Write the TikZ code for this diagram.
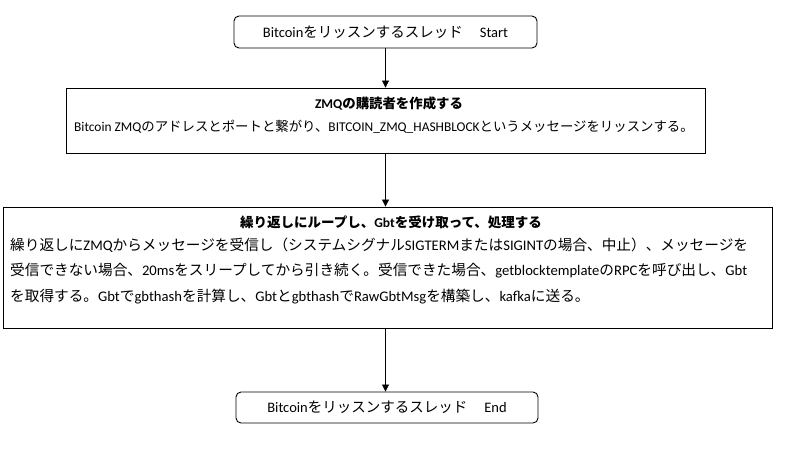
\documentclass[tikz,border=0pt]{standalone}
\usepackage{fontspec}
\setmainfont{Carlito}
\newfontfamily\jpf{Noto Sans CJK JP}
\newcommand{\J}[1]{{\jpf #1}}
\usetikzlibrary{arrows.meta}
\begin{document}
\begin{tikzpicture}[x=1pt,y=-1pt,
  box/.style={draw=black, line width=0.9pt, inner sep=0pt},
  rbox/.style={box, rounded corners=5pt},
  conn/.style={draw=black, line width=0.8pt, -{Triangle[length=7pt,width=7pt]}},
  txt/.style={inner sep=0pt, text=black},
  ]
\fill[white] (0,0) rectangle (805,450);
\useasboundingbox (0,0) rectangle (805,450);

\node[rbox, minimum width=303pt, minimum height=32pt] (start) at (385.5,32) {};
\node[box, minimum width=639pt, minimum height=65pt] (zmq) at (385.5,120.5) {};
\node[box, minimum width=769pt, minimum height=121pt] (loop) at (387.5,267.5) {};
\node[rbox, minimum width=302pt, minimum height=31pt] (end) at (387,407.5) {};

\node[txt, font=\fontsize{14.5}{17}\selectfont] (t1) at (385.5,32) {Bitcoin\J{をリッスンするスレッド}\hspace{17pt}Start};
\node[txt, font=\fontsize{14.5}{17}\selectfont] (t4) at (387,407.5) {Bitcoin\J{をリッスンするスレッド}\hspace{17pt}End};

\node[txt, font=\fontsize{13.4}{16}\selectfont\bfseries] (zt) at (389,103) {ZMQ\J{の購読者を作成する}};
\node[txt, anchor=west, font=\fontsize{13.4}{16}\selectfont] (zb) at (74,127) {Bitcoin ZMQ\J{のアドレスとポートと繋がり、}BITCOIN\_ZMQ\_HASHBLOCK\J{というメッセージをリッスンする。}};

\node[txt, font=\fontsize{13.5}{16}\selectfont\bfseries] (lt) at (391,222) {\J{繰り返しにループし、}Gbt\J{を受け取って、処理する}};
\node[txt, anchor=west, font=\fontsize{14.65}{18}\selectfont] (l1) at (10,245) {\J{繰り返しに}ZMQ\J{からメッセージを受信し（システムシグナル}SIGTERM\J{または}SIGINT\J{の場合、中止）、メッセージを}};
\node[txt, anchor=west, font=\fontsize{14.65}{18}\selectfont] (l2) at (10,271) {\J{受信できない場合、}20ms\J{をスリープしてから引き続く。受信できた場合、}getblocktemplate\J{の}RPC\J{を呼び出し、}Gbt};
\node[txt, anchor=west, font=\fontsize{14.65}{18}\selectfont] (l3) at (10,297) {\J{を取得する。}Gbt\J{で}gbthash\J{を計算し、}Gbt\J{と}gbthash\J{で}RawGbtMsg\J{を構築し、}kafka\J{に送る。}};

\draw[conn] (start) -- (zmq);
\draw[conn] (zmq) -- (loop.north -| zmq.south);
\draw[conn] (loop.south -| zmq.south) -- (end.north -| zmq.south);
\end{tikzpicture}
\end{document}
